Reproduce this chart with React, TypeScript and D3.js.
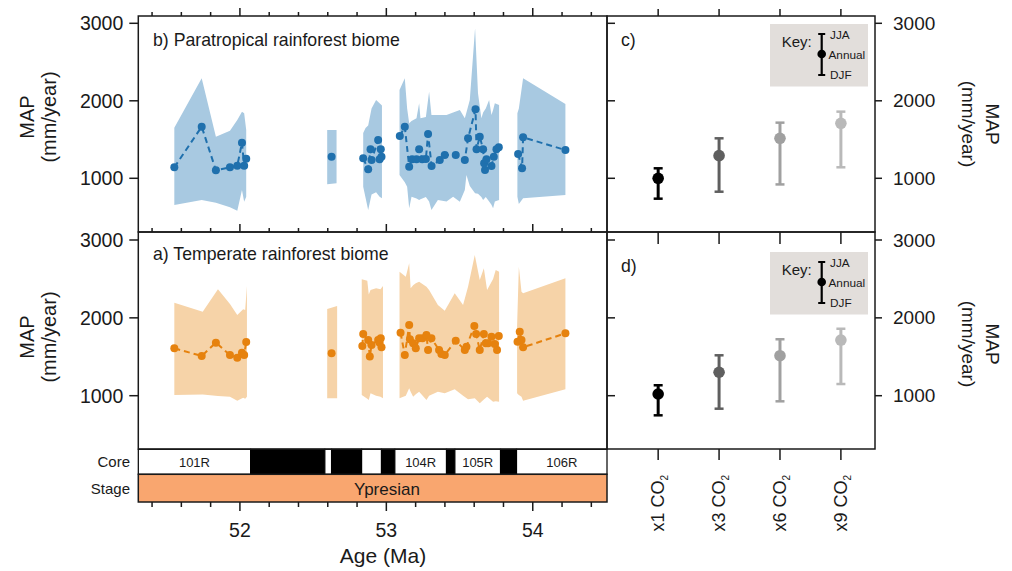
import React from "react";
import * as d3 from "d3";

// ---------------- DATA ----------------
const ageTicksMajor = [52, 53, 54];
const ageTicksMinor = d3.range(51.4, 54.51, 0.2);
const mapTicks = [1000, 2000, 3000];

const coreBounds = [51.306, 52.073, 52.58, 52.626, 52.831, 52.967, 53.058, 53.411, 53.468, 53.78, 53.889, 54.507];
const coreLabels = ["101R", "", "", "", "", "", "104R", "", "105R", "", "106R"];
const coreRecovered = [true, false, true, false, true, false, true, false, true, false, true];
const stageName = "Ypresian";

// Paratropical rainforest biome (panel b)
const paraAges = [
  [51.552, 51.739, 51.836, 51.932, 51.982, 52.014, 52.029, 52.043],
  [52.626],
  [52.842, 52.876, 52.892, 52.899, 52.944, 52.954, 52.962, 52.967],
  [53.092, 53.126, 53.156, 53.176, 53.206, 53.224, 53.245, 53.27, 53.285, 53.309, 53.365, 53.399, 53.474, 53.536, 53.558, 53.609, 53.616, 53.638, 53.661, 53.668, 53.674, 53.684, 53.718, 53.734, 53.752, 53.768],
  [53.9, 53.927, 53.934, 54.223],
];
const paraMaps = [
  [1142, 1666, 1103, 1142, 1163, 1459, 1163, 1253],
  [1279],
  [1258, 1116, 1374, 1236, 1494, 1245, 1374, 1279],
  [1546, 1666, 1150, 1245, 1245, 1374, 1245, 1250, 1571, 1159, 1236, 1301, 1301, 1236, 1516, 1890, 1374, 1537, 1374, 1194, 1107, 1245, 1159, 1279, 1374, 1400],
  [1314, 1129, 1529, 1365],
];
const paraBandAges = [
  [51.552, 51.739, 51.836, 51.932, 51.982, 52.014, 52.029, 52.043],
  [52.596, 52.66],
  [52.842, 52.858, 52.876, 52.899, 52.93, 52.954, 52.97],
  [53.09, 53.126, 53.142, 53.156, 53.172, 53.206, 53.224, 53.233, 53.27, 53.292, 53.308, 53.352, 53.411, 53.456, 53.502, 53.536, 53.547, 53.57, 53.606, 53.626, 53.649, 53.661, 53.679, 53.702, 53.718, 53.729, 53.741, 53.77],
  [53.895, 53.905, 53.934, 54.223],
];
const paraBandHi = [
  [1653, 2290, 1537, 1614, 1752, 1860, 1839, 1623],
  [1623, 1623],
  [1584, 1650, 1680, 1900, 2010, 1970, 1940],
  [2138, 2290, 1900, 1710, 1740, 1774, 1968, 1774, 1790, 2117, 1817, 1817, 1817, 1850, 1881, 1774, 1850, 2010, 2935, 2097, 1774, 1850, 1900, 2010, 1817, 1880, 1968, 1946],
  [1839, 1900, 2290, 1959],
];
const paraBandLo = [
  [655, 720, 686, 626, 582, 849, 698, 763],
  [923, 935],
  [892, 750, 591, 790, 820, 763, 742],
  [1043, 950, 892, 613, 763, 740, 720, 730, 760, 700, 591, 720, 700, 763, 698, 850, 1043, 900, 806, 800, 760, 720, 760, 700, 660, 613, 700, 720],
  [763, 668, 742, 785],
];

// Temperate rainforest biome (panel a)
const tempAges = [
  [51.552, 51.739, 51.836, 51.932, 51.982, 52.014, 52.029, 52.043],
  [52.626],
  [52.836, 52.842, 52.876, 52.887, 52.899, 52.944, 52.954, 52.962, 52.967],
  [53.097, 53.126, 53.156, 53.161, 53.183, 53.201, 53.224, 53.247, 53.274, 53.285, 53.308, 53.36, 53.376, 53.399, 53.474, 53.536, 53.547, 53.601, 53.613, 53.638, 53.666, 53.679, 53.695, 53.718, 53.74, 53.756, 53.768],
  [53.896, 53.911, 53.923, 53.934, 54.223],
];
const tempMaps = [
  [1609, 1510, 1681, 1523, 1488, 1552, 1523, 1690],
  [1545],
  [1638, 1793, 1716, 1502, 1651, 1716, 1680, 1737, 1622],
  [1809, 1523, 1908, 1724, 1673, 1609, 1737, 1737, 1780, 1587, 1737, 1587, 1535, 1523, 1707, 1587, 1630, 1895, 1793, 1587, 1793, 1673, 1673, 1758, 1664, 1587, 1767],
  [1694, 1822, 1716, 1622, 1801],
];
const tempBandAges = [
  [51.552, 51.746, 51.85, 51.932, 51.982, 52.022, 52.036, 52.048],
  [52.596, 52.664],
  [52.832, 52.87, 52.88, 52.892, 52.93, 52.96, 52.977],
  [53.09, 53.133, 53.156, 53.166, 53.183, 53.201, 53.224, 53.274, 53.292, 53.352, 53.399, 53.467, 53.524, 53.558, 53.604, 53.638, 53.666, 53.688, 53.729, 53.747, 53.77],
  [53.893, 53.905, 53.923, 53.934, 54.223],
];
const tempBandHi = [
  [2195, 2079, 2367, 2178, 2037, 2110, 2100, 2409],
  [2114, 2152],
  [2495, 2477, 2300, 2358, 2380, 2367, 2409],
  [2593, 2529, 2700, 2380, 2420, 2444, 2464, 2400, 2358, 2165, 2092, 2315, 2165, 2400, 2807, 2486, 2636, 2358, 2500, 2614, 2593],
  [1900, 2657, 2336, 2315, 2508],
];
const tempBandLo = [
  [1009, 1015, 995, 987, 936, 974, 960, 987],
  [967, 967],
  [1009, 960, 945, 1031, 1000, 987, 967],
  [967, 1000, 1095, 1050, 987, 1020, 1051, 945, 1000, 1051, 1031, 1082, 1000, 954, 967, 902, 950, 987, 923, 930, 923],
  [1031, 1010, 987, 936, 1082],
];

// Model simulations (panels c, d)
const co2Labels = ["x1", "x3", "x6", "x9"];
const paraModelAnnual = [1000, 1292, 1516, 1710];
const paraModelJJA = [1129, 1516, 1718, 1860];
const paraModelDJF = [737, 827, 921, 1142];
const tempModelAnnual = [1022, 1301, 1514, 1715];
const tempModelJJA = [1134, 1519, 1725, 1860];
const tempModelDJF = [748, 833, 928, 1150];

// ---------------- LAYOUT / STYLE ----------------
const FONT = "'Liberation Sans', Arial, Helvetica, sans-serif";
const X0 = 138.3, X1 = 607, RX1 = 875;
const YT = 16, YM = 232, YB = 449;
const CORE_Y0 = 449.3, CORE_Y1 = 474.3, STAGE_Y1 = 502;
const BLUE = "#1f70ad", BLUE_BAND = "#a8c9e1";
const ORANGE = "#e6820e", ORANGE_BAND = "#f6d3a8";
const GREYS = ["#000000", "#5f5f5f", "#a0a0a0", "#b9b9b9"];
const INK = "#1a1a1a";

const xAge = d3.scaleLinear().domain([51.306, 54.507]).range([X0, X1]);
const yB = d3.scaleLinear().domain([1000, 3000]).range([178.3, 23.3]);
const yA = d3.scaleLinear().domain([1000, 3000]).range([395.7, 240]);
const xCO2 = d3.scaleLinear().domain([-0.84, 3.56]).range([X1, RX1]);

type Seg = { ages: number[][]; maps: number[][]; bAges: number[][]; bHi: number[][]; bLo: number[][] };

function Biome({ s, y, dot, band }: { s: Seg; y: d3.ScaleLinear<number, number>; dot: string; band: string }) {
  const area = d3
    .area<[number, number, number]>()
    .x((d) => xAge(d[0]))
    .y0((d) => y(d[2]))
    .y1((d) => y(d[1]));
  const line = d3
    .line<[number, number]>()
    .x((d) => xAge(d[0]))
    .y((d) => y(d[1]));
  return (
    <g>
      {s.bAges.map((ages, i) => (
        <path key={"b" + i} d={area(ages.map((a, j) => [a, s.bHi[i][j], s.bLo[i][j]] as [number, number, number])) || ""} fill={band} />
      ))}
      {s.ages.map((ages, i) => (
        <path key={"l" + i} d={line(ages.map((a, j) => [a, s.maps[i][j]] as [number, number])) || ""} fill="none" stroke={dot} strokeWidth={2} strokeDasharray="6,4" />
      ))}
      {s.ages.map((ages, i) =>
        ages.map((a, j) => <circle key={"c" + i + "-" + j} cx={xAge(a)} cy={y(s.maps[i][j])} r={4} fill={dot} />)
      )}
    </g>
  );
}

function YAxisLeft({ y }: { y: d3.ScaleLinear<number, number> }) {
  return (
    <g>
      {mapTicks.map((t) => (
        <g key={t}>
          <line x1={X0 - 9} x2={X0} y1={y(t)} y2={y(t)} stroke={INK} strokeWidth={1.5} />
          <text x={X0 - 15} y={y(t)} textAnchor="end" dominantBaseline="central" fontSize={19.5}>
            {t}
          </text>
        </g>
      ))}
    </g>
  );
}

function RightPanel({ y, annual, jja, djf, top, label }: { y: d3.ScaleLinear<number, number>; annual: number[]; jja: number[]; djf: number[]; top: number; label: string }) {
  const keyTop = label === "c)" ? top + 8 : top + 20;
  const kx = 821.7;
  return (
    <g>
      {mapTicks.map((t) => (
        <g key={t}>
          <line x1={X1} x2={X1 + 8} y1={y(t)} y2={y(t)} stroke={INK} strokeWidth={1.5} />
          <line x1={RX1} x2={RX1 + 7} y1={y(t)} y2={y(t)} stroke={INK} strokeWidth={1.5} />
          <text x={RX1 + 18} y={y(t)} dominantBaseline="central" fontSize={19}>
            {t}
          </text>
        </g>
      ))}
      <text x={621} y={top + (label === "c)" ? 30 : 40)} fontSize={17.7}>
        {label}
      </text>
      {co2Labels.map((c, i) => {
        const x = xCO2(i);
        return (
          <g key={c}>
            <line x1={x} x2={x} y1={y(djf[i])} y2={y(jja[i])} stroke={GREYS[i]} strokeWidth={3} />
            <line x1={x - 4.5} x2={x + 4.5} y1={y(djf[i])} y2={y(djf[i])} stroke={GREYS[i]} strokeWidth={2.5} />
            <line x1={x - 4.5} x2={x + 4.5} y1={y(jja[i])} y2={y(jja[i])} stroke={GREYS[i]} strokeWidth={2.5} />
            <circle cx={x} cy={y(annual[i])} r={5.8} fill={GREYS[i]} />
          </g>
        );
      })}
      <rect x={770} y={keyTop} width={98} height={62.5} fill="#e2dedb" />
      <text x={781.7} y={keyTop + 23} fontSize={15}>
        Key:
      </text>
      <line x1={kx} x2={kx} y1={keyTop + 10} y2={keyTop + 51} stroke="#000" strokeWidth={2.2} />
      <line x1={kx - 3.5} x2={kx + 3.5} y1={keyTop + 10} y2={keyTop + 10} stroke="#000" strokeWidth={2} />
      <line x1={kx - 3.5} x2={kx + 3.5} y1={keyTop + 51} y2={keyTop + 51} stroke="#000" strokeWidth={2} />
      <circle cx={kx} cy={keyTop + 30} r={4.3} fill="#000" />
      <text x={830} y={keyTop + 15} fontSize={11.8}>
        JJA
      </text>
      <text x={828.5} y={keyTop + 35} fontSize={11.8}>
        Annual
      </text>
      <text x={830} y={keyTop + 55} fontSize={11.8}>
        DJF
      </text>
    </g>
  );
}

export default function App() {
  const para: Seg = { ages: paraAges, maps: paraMaps, bAges: paraBandAges, bHi: paraBandHi, bLo: paraBandLo };
  const temp: Seg = { ages: tempAges, maps: tempMaps, bAges: tempBandAges, bHi: tempBandHi, bLo: tempBandLo };
  const segs = coreLabels.map((l, i) => ({ l, a0: coreBounds[i], a1: coreBounds[i + 1], rec: coreRecovered[i] }));
  return (
    <svg width={1012} height={571} style={{ position: "absolute", left: 0, top: 0, background: "#fff" }} fontFamily={FONT} fill={INK}>
      <rect x={0} y={0} width={1012} height={571} fill="#fff" />
      {/* left data */}
      <Biome s={para} y={yB} dot={BLUE} band={BLUE_BAND} />
      <Biome s={temp} y={yA} dot={ORANGE} band={ORANGE_BAND} />

      {/* panel titles */}
      <text x={153} y={46} fontSize={17.7}>
        b) Paratropical rainforest biome
      </text>
      <text x={153} y={260} fontSize={17.7}>
        a) Temperate rainforest biome
      </text>

      {/* age ticks: top of b (outward), bottom of b (inward), below stage (outward) */}
      {ageTicksMinor.map((t) => {
        const major = ageTicksMajor.some((m) => Math.abs(m - t) < 1e-6);
        const len = major ? 8 : 4;
        const x = xAge(t);
        return (
          <g key={t.toFixed(2)}>
            <line x1={x} x2={x} y1={YT} y2={YT - len} stroke={INK} strokeWidth={1.5} />
            <line x1={x} x2={x} y1={YM} y2={YM - len} stroke={INK} strokeWidth={1.5} />
            <line x1={x} x2={x} y1={STAGE_Y1} y2={STAGE_Y1 + len + 1} stroke={INK} strokeWidth={1.5} />
          </g>
        );
      })}
      {ageTicksMajor.map((t) => (
        <text key={t} x={xAge(t)} y={530} textAnchor="middle" dominantBaseline="central" fontSize={19.5}>
          {t}
        </text>
      ))}
      <text x={383} y={555} textAnchor="middle" dominantBaseline="central" fontSize={21}>
        Age (Ma)
      </text>

      <YAxisLeft y={yB} />
      <YAxisLeft y={yA} />

      {/* y titles */}
      {[
        [117, 124],
        [337, 344],
      ].map(([cl, cr]) => (
        <g key={cl}>
          <text transform={`translate(27,${cl}) rotate(-90)`} textAnchor="middle" dominantBaseline="central" fontSize={20}>
            MAP
          </text>
          <text transform={`translate(49,${cl}) rotate(-90)`} textAnchor="middle" dominantBaseline="central" fontSize={20}>
            (mm/year)
          </text>
          <text transform={`translate(992,${cr}) rotate(90)`} textAnchor="middle" dominantBaseline="central" fontSize={19}>
            MAP
          </text>
          <text transform={`translate(968,${cr}) rotate(90)`} textAnchor="middle" dominantBaseline="central" fontSize={19}>
            (mm/year)
          </text>
        </g>
      ))}

      {/* core and stage */}
      {segs.map((s, i) => (
        <g key={i}>
          <rect x={xAge(s.a0)} y={CORE_Y0} width={xAge(s.a1) - xAge(s.a0)} height={CORE_Y1 - CORE_Y0} fill={s.rec ? "#fff" : "#000"} stroke="#000" strokeWidth={1.2} />
          {s.l && (
            <text x={(xAge(s.a0) + xAge(s.a1)) / 2} y={(CORE_Y0 + CORE_Y1) / 2 + 1} textAnchor="middle" dominantBaseline="central" fontSize={13}>
              {s.l}
            </text>
          )}
        </g>
      ))}
      <rect x={X0} y={CORE_Y1} width={X1 - X0} height={STAGE_Y1 - CORE_Y1} fill="#f9a66f" stroke={INK} strokeWidth={1.5} />
      <text x={387} y={(CORE_Y1 + STAGE_Y1) / 2 + 1} textAnchor="middle" dominantBaseline="central" fontSize={17}>
        {stageName}
      </text>
      <text x={130} y={(CORE_Y0 + CORE_Y1) / 2} textAnchor="end" dominantBaseline="central" fontSize={15}>
        Core
      </text>
      <text x={130} y={(CORE_Y1 + STAGE_Y1) / 2} textAnchor="end" dominantBaseline="central" fontSize={15}>
        Stage
      </text>

      {/* right panels */}
      <RightPanel y={yB} annual={paraModelAnnual} jja={paraModelJJA} djf={paraModelDJF} top={YT} label="c)" />
      <RightPanel y={yA} annual={tempModelAnnual} jja={tempModelJJA} djf={tempModelDJF} top={YM} label="d)" />
      {co2Labels.map((c, i) => {
        const x = xCO2(i);
        return (
          <g key={c}>
            <line x1={x} x2={x} y1={YT} y2={YT - 7} stroke={INK} strokeWidth={1.5} />
            <line x1={x} x2={x} y1={YM} y2={YM + 12} stroke={INK} strokeWidth={1.5} />
            <line x1={x} x2={x} y1={YB} y2={YB + 11} stroke={INK} strokeWidth={1.5} />
            <text transform={`translate(${x},475) rotate(-90)`} textAnchor="end" dominantBaseline="central" fontSize={18}>
              {c} CO<tspan fontSize={10} dy={6}>2</tspan>
            </text>
          </g>
        );
      })}

      {/* frames */}
      <rect x={X0} y={YT} width={X1 - X0} height={YM - YT} fill="none" stroke={INK} strokeWidth={1.5} />
      <rect x={X0} y={YM} width={X1 - X0} height={YB - YM} fill="none" stroke={INK} strokeWidth={1.5} />
      <rect x={X1} y={YT} width={RX1 - X1} height={YM - YT} fill="none" stroke={INK} strokeWidth={1.5} />
      <rect x={X1} y={YM} width={RX1 - X1} height={YB - YM} fill="none" stroke={INK} strokeWidth={1.5} />
    </svg>
  );
}
